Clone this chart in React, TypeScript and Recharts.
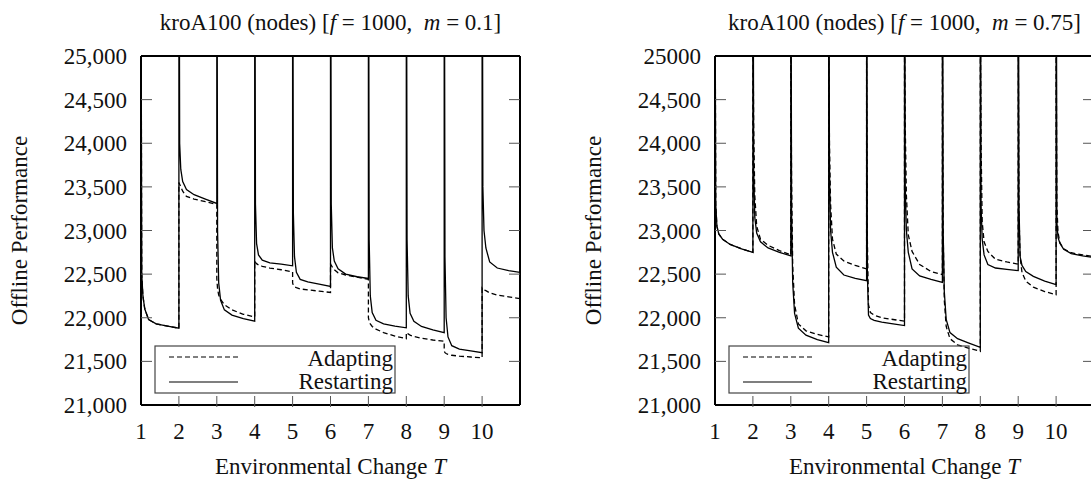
import React from 'react';
import { LineChart, Line, XAxis, YAxis, ReferenceLine } from 'recharts';

// environmental changes T and sample offsets inside each change period
const changes = [1, 2, 3, 4, 5, 6, 7, 8, 9, 10];
const offsets = [0, 0.02, 0.05, 0.1, 0.2, 0.4, 0.7, 1];
const xTicks = [1, 2, 3, 4, 5, 6, 7, 8, 9, 10];
const yTicks = [21000, 21500, 22000, 22500, 23000, 23500, 24000, 24500, 25000];

// m = 0.1, one row per period (values at the offsets above)
const lowAdapting = [
  [26000, 22500, 22250, 22100, 21980, 21930, 21905, 21880],
  [23550, 23530, 23500, 23450, 23390, 23360, 23330, 23300],
  [22450, 22330, 22260, 22210, 22150, 22090, 22040, 22010],
  [22650, 22635, 22620, 22605, 22590, 22570, 22550, 22525],
  [22400, 22370, 22355, 22345, 22330, 22320, 22305, 22290],
  [22620, 22600, 22580, 22550, 22515, 22490, 22465, 22440],
  [22000, 21960, 21930, 21900, 21870, 21830, 21790, 21760],
  [21830, 21825, 21815, 21800, 21785, 21765, 21745, 21730],
  [21620, 21600, 21590, 21580, 21570, 21560, 21550, 21540],
  [22340, 22330, 22320, 22310, 22285, 22260, 22240, 22220],
];
const lowRestarting = [
  [26000, 22500, 22250, 22100, 21980, 21930, 21905, 21880],
  [28000, 24000, 23700, 23560, 23470, 23410, 23360, 23310],
  [28000, 23000, 22400, 22200, 22090, 22030, 21990, 21960],
  [28000, 23300, 22850, 22720, 22660, 22630, 22615, 22595],
  [28000, 23200, 22700, 22520, 22440, 22410, 22385, 22360],
  [28000, 23300, 22800, 22650, 22560, 22500, 22470, 22450],
  [28000, 22900, 22250, 22060, 21970, 21930, 21905, 21885],
  [28000, 22900, 22250, 22050, 21960, 21900, 21860, 21830],
  [28000, 22700, 22000, 21780, 21680, 21640, 21620, 21600],
  [28000, 23500, 23000, 22800, 22640, 22570, 22540, 22520],
];

// m = 0.75
const highAdapting = [
  [26000, 23300, 23050, 22960, 22900, 22840, 22790, 22750],
  [25500, 24200, 23400, 23050, 22900, 22830, 22770, 22720],
  [25500, 23600, 22600, 22150, 21930, 21850, 21810, 21780],
  [25500, 24000, 23300, 22900, 22730, 22650, 22600, 22560],
  [25500, 22900, 22150, 22060, 22030, 22000, 21980, 21960],
  [25500, 24200, 23400, 22950, 22760, 22610, 22530, 22495],
  [25500, 23000, 22200, 21900, 21760, 21690, 21650, 21615],
  [25500, 24000, 23100, 22870, 22760, 22670, 22640, 22615],
  [25500, 23200, 22700, 22520, 22420, 22350, 22300, 22265],
  [25500, 23300, 22980, 22860, 22790, 22745, 22720, 22700],
];
const highRestarting = [
  [26000, 23300, 23050, 22960, 22900, 22840, 22790, 22750],
  [28000, 23700, 23150, 22970, 22870, 22800, 22750, 22710],
  [28000, 23200, 22400, 22050, 21880, 21800, 21750, 21715],
  [28000, 23700, 23000, 22750, 22580, 22490, 22450, 22425],
  [28000, 22500, 22030, 21990, 21970, 21950, 21930, 21910],
  [28000, 23500, 23000, 22750, 22560, 22480, 22440, 22405],
  [28000, 23000, 22300, 21980, 21830, 21760, 21710, 21660],
  [28000, 23300, 22900, 22720, 22610, 22570, 22555, 22540],
  [28000, 23300, 22700, 22600, 22530, 22475, 22420, 22380],
  [28000, 23100, 22920, 22855, 22785, 22735, 22710, 22690],
];

const toPoints = (rows: number[][]) =>
  changes.flatMap((t, i) => offsets.map((o, j) => ({ x: t + o, v: rows[i][j] })));

const FONT = '"Liberation Serif", "Times New Roman", Times, serif';
const FS = 23;
const TICK_GAP = 14;
const TICK_LEN = 11;

const commas = (v: number) => v.toLocaleString('en-US');

const LeftTick = (props: any) => {
  const { x, y, payload, format } = props;
  const axisX = x + TICK_GAP;
  const edge = payload.value === 21000 || payload.value === 25000;
  return (
    <g>
      {!edge && <line x1={axisX} x2={axisX + TICK_LEN} y1={y} y2={y} stroke="#555" strokeWidth={1} />}
      <text x={x} y={y} dy="0.35em" textAnchor="end" fontSize={FS} fontFamily={FONT} fill="#111">
        {format(payload.value)}
      </text>
    </g>
  );
};

const RightTick = (props: any) => {
  const { x, y, payload } = props;
  if (payload.value === 21000 || payload.value === 25000) return <g />;
  return <line x1={x - TICK_LEN} x2={x} y1={y} y2={y} stroke="#555" strokeWidth={1} />;
};

const BottomTick = (props: any) => {
  const { x, y, payload } = props;
  return (
    <g>
      {payload.value !== 1 && <line x1={x} x2={x} y1={y} y2={y - TICK_LEN} stroke="#555" strokeWidth={1} />}
      <text x={x} y={y + 16} dy="0.71em" textAnchor="middle" fontSize={FS} fontFamily={FONT} fill="#111">
        {payload.value}
      </text>
    </g>
  );
};

interface PanelProps {
  m: string;
  adapting: number[][];
  restarting: number[][];
  format: (v: number) => string;
  left: number;
}

const Panel: React.FC<PanelProps> = ({ m, adapting, restarting, format, left }) => {
  const border = { stroke: '#000', strokeWidth: 2 };
  return (
    <div style={{ position: 'absolute', left, top: 0, width: 545, height: 479 }}>
      <LineChart width={545} height={479} margin={{ top: 56, right: 24, bottom: 0, left: 0 }}>
        <XAxis
          dataKey="x"
          type="number"
          domain={[1, 11]}
          ticks={xTicks}
          allowDataOverflow
          height={74}
          tickSize={0}
          tickLine={false}
          axisLine={border}
          tick={<BottomTick />}
          label={(p: any) => {
            const vb = p.viewBox;
            return (
              <text x={vb.x + vb.width / 2} y={474} textAnchor="middle" fontSize={FS} fontFamily={FONT} fill="#111">
                Environmental Change <tspan fontStyle="italic">T</tspan>
              </text>
            );
          }}
        />
        <YAxis
          domain={[21000, 25000]}
          ticks={yTicks}
          allowDataOverflow
          width={141}
          tickSize={0}
          tickMargin={TICK_GAP}
          tickLine={false}
          axisLine={border}
          tick={<LeftTick format={format} />}
          interval={0}
          label={(p: any) => {
            const vb = p.viewBox;
            const cy = vb.y + vb.height / 2;
            return (
              <text x={27} y={cy} transform={`rotate(-90 27 ${cy})`} textAnchor="middle" fontSize={FS} fontFamily={FONT} fill="#111">
                Offline Performance
              </text>
            );
          }}
        />
        <YAxis
          yAxisId="right"
          orientation="right"
          domain={[21000, 25000]}
          ticks={yTicks}
          allowDataOverflow
          width={1}
          tickSize={0}
          tickMargin={0}
          tickLine={false}
          axisLine={border}
          tick={<RightTick />}
          interval={0}
        />
        <ReferenceLine y={25000} stroke="#000" strokeWidth={2} />
        <Line
          data={toPoints(adapting)}
          dataKey="v"
          name="Adapting"
          type="linear"
          dot={false}
          stroke="#000"
          strokeWidth={1.3}
          strokeDasharray="5 3"
          isAnimationActive={false}
        />
        <Line
          data={toPoints(restarting)}
          dataKey="v"
          name="Restarting"
          type="linear"
          dot={false}
          stroke="#000"
          strokeWidth={1.3}
          isAnimationActive={false}
        />
      </LineChart>
      <svg width={545} height={479} style={{ position: 'absolute', left: 0, top: 0, pointerEvents: 'none' }}>
        <text x={330.5} y={29.5} textAnchor="middle" fontSize={FS} fontFamily={FONT} fill="#111" style={{ whiteSpace: 'pre' }}>
          kroA100 (nodes) [<tspan fontStyle="italic">f</tspan> = 1000,  <tspan fontStyle="italic">m</tspan> = {m}]
        </text>
        <rect x={155} y={346} width={240} height={47} fill="none" stroke="#444" strokeWidth={1.2} />
        <line x1={169} x2={238} y1={357} y2={357} stroke="#000" strokeWidth={1.2} strokeDasharray="5 3" />
        <line x1={169} x2={238} y1={382} y2={382} stroke="#000" strokeWidth={1.2} />
        <text x={393} y={366} textAnchor="end" fontSize={FS} fontFamily={FONT} fill="#111">Adapting</text>
        <text x={393} y={389} textAnchor="end" fontSize={FS} fontFamily={FONT} fill="#111">Restarting</text>
      </svg>
    </div>
  );
};

export default function App() {
  return (
    <div style={{ position: 'absolute', left: 0, top: 0, width: 1091, height: 479, overflow: 'hidden', background: '#fff' }}>
      <Panel m="0.1" adapting={lowAdapting} restarting={lowRestarting} format={commas} left={0} />
      <Panel
        m="0.75"
        adapting={highAdapting}
        restarting={highRestarting}
        format={(v) => (v === 25000 ? '25000' : commas(v))}
        left={574}
      />
    </div>
  );
}
